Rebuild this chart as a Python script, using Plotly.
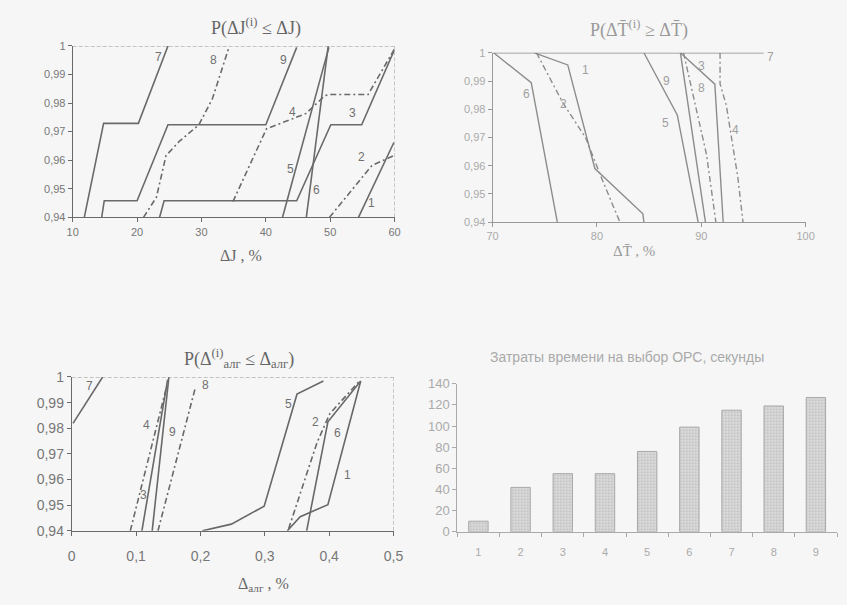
import plotly.graph_objects as go

W, H = 847, 605

# ---------------- Panel 1 data: P(dJ(i) <= dJ) ----------------
p1_curves = {
    "7": ([11.8, 14.8, 20.2, 24.8], [0.94, 0.9729, 0.9729, 1.0]),
    "9": ([14.5, 14.9, 20.0, 24.8, 40.0, 44.8], [0.94, 0.9458, 0.9458, 0.9724, 0.9724, 0.9995]),
    "8": ([21.0, 23.0, 24.5, 26.6, 29.6, 31.7, 34.2], [0.94, 0.947, 0.9616, 0.9667, 0.9724, 0.9815, 0.999]),
    "3": ([23.5, 24.2, 44.8, 50.1, 54.9, 60.0], [0.94, 0.9458, 0.9458, 0.9724, 0.9724, 0.9987]),
    "4": ([34.9, 40.1, 46.2, 49.2, 50.0, 55.9, 60.0], [0.9455, 0.971, 0.9763, 0.9826, 0.983, 0.983, 0.999]),
    "5": ([42.6, 49.8], [0.94, 0.9995]),
    "6": ([46.3, 49.7], [0.94, 1.0]),
    "2": ([49.9, 56.5, 60.0], [0.94, 0.9582, 0.9617]),
    "1": ([54.4, 59.9], [0.94, 0.9662]),
}
p1_dash = ["8", "4", "2"]
p1_labels = {"7": (23.3, 0.9962), "8": (31.9, 0.9951), "9": (42.8, 0.9951),
             "4": (44.1, 0.9769), "3": (53.5, 0.9764), "2": (54.8, 0.961),
             "5": (43.8, 0.957), "6": (47.9, 0.9497), "1": (56.5, 0.9451)}
p1_xticks = [10, 20, 30, 40, 50, 60]
prob_ticks = [0.94, 0.95, 0.96, 0.97, 0.98, 0.99, 1.0]
prob_text = ["0,94", "0,95", "0,96", "0,97", "0,98", "0,99", "1"]

# ---------------- Panel 2 data: P(dT(i) >= dT) ----------------
p2_curves = {
    "7": ([70.0, 96.0], [1.0, 1.0]),
    "6": ([70.1, 73.7, 76.2], [1.0, 0.9894, 0.94]),
    "1": ([74.0, 77.2, 79.8, 84.4, 84.5], [1.0, 0.9957, 0.959, 0.943, 0.94]),
    "2": ([74.2, 76.7, 78.9, 80.4, 82.2], [1.0, 0.9825, 0.97, 0.956, 0.94]),
    "5": ([84.5, 87.7, 89.7], [1.0, 0.978, 0.94]),
    "9": ([88.0, 90.4], [1.0, 0.94]),
    "3": ([88.0, 91.3, 92.1], [1.0, 0.9889, 0.94]),
    "8": ([88.3, 89.4, 90.5, 91.4], [1.0, 0.9814, 0.964, 0.94]),
    "4": ([91.8, 91.8, 92.4, 93.0, 93.5, 94.0], [1.0, 0.989, 0.9814, 0.967, 0.956, 0.94]),
}
p2_dash = ["2", "8", "4"]
p2_labels = {"6": (73.2, 0.9854), "1": (78.9, 0.994), "2": (76.8, 0.982),
             "9": (86.7, 0.99), "5": (86.6, 0.975), "3": (90.0, 0.9952),
             "8": (90.0, 0.9877), "4": (93.3, 0.9728), "7": (96.6, 0.9986)}
p2_xticks = [70, 80, 90, 100]

# ---------------- Panel 3 data: P(d_alg(i) <= d_alg) ----------------
p3_curves = {
    "7": ([0.002, 0.048], [0.9819, 1.0]),
    "4": ([0.091, 0.147], [0.94, 0.9958]),
    "3": ([0.109, 0.149], [0.94, 0.999]),
    "9": ([0.125, 0.151], [0.94, 1.0]),
    "8": ([0.134, 0.192], [0.94, 0.9958]),
    "5": ([0.203, 0.248, 0.299, 0.350, 0.391], [0.94, 0.9426, 0.9496, 0.9933, 0.9984]),
    "1": ([0.335, 0.355, 0.398, 0.449], [0.94, 0.9455, 0.9502, 0.9984]),
    "6": ([0.365, 0.398, 0.449], [0.94, 0.9825, 0.9984]),
    "2": ([0.337, 0.381, 0.401, 0.447], [0.9408, 0.9743, 0.9857, 0.9984]),
}
p3_dash = ["4", "8", "2"]
p3_labels = {"7": (0.027, 0.9965), "4": (0.116, 0.9813), "9": (0.156, 0.9787),
             "3": (0.111, 0.954), "8": (0.208, 0.9968), "5": (0.337, 0.9895),
             "2": (0.378, 0.9825), "6": (0.413, 0.9781), "1": (0.428, 0.9616)}
p3_xticks = [0, 0.1, 0.2, 0.3, 0.4, 0.5]
p3_xtext = ["0", "0,1", "0,2", "0,3", "0,4", "0,5"]

# ---------------- Panel 4 data: time cost ----------------
bar_categories = [1, 2, 3, 4, 5, 6, 7, 8, 9]
bar_values = [10, 42, 55, 55, 76, 99, 115, 119, 127]
bar_yticks = [0, 20, 40, 60, 80, 100, 120, 140]


def px(x):
    return x / W


def py(y):
    return 1 - y / H


fig = go.Figure()

panels = [
    ("x", "y", p1_curves, p1_dash, p1_labels, "#6a6a6a", "#707070", 1.6),
    ("x2", "y2", p2_curves, p2_dash, p2_labels, "#8c8c8c", "#a0a0a0", 1.4),
    ("x3", "y3", p3_curves, p3_dash, p3_labels, "#686868", "#707070", 1.6),
]
for xa, ya, curves, dashed, labels, lc, tc, lw in panels:
    for name, (xs, ys) in curves.items():
        fig.add_trace(go.Scatter(
            x=xs, y=ys, mode="lines", xaxis=xa, yaxis=ya, showlegend=False,
            line=dict(color=lc, width=lw,
                      dash="6px,3px,2px,3px" if name in dashed else "solid"),
            hoverinfo="skip"))
    for name, (lx, ly) in labels.items():
        fig.add_annotation(x=lx, y=ly, xref=xa, yref=ya, text=name, showarrow=False,
                           xanchor="center", yanchor="middle",
                           font=dict(family="Liberation Sans", size=12, color=tc))

fig.add_trace(go.Bar(
    x=bar_categories, y=bar_values, xaxis="x4", yaxis="y4", showlegend=False,
    width=0.46,
    marker=dict(color="#d4d4d4", line=dict(color="#a8a8a8", width=1),
                pattern=dict(shape=".", fgcolor="#9a9a9a", bgcolor="#dcdcdc",
                             size=3, solidity=0.35)),
    hoverinfo="skip"))

tickfont_s = dict(family="Liberation Sans", size=11, color="#777")
axis_common = dict(showgrid=False, zeroline=False, showline=True, ticks="outside",
                   ticklen=4, fixedrange=True)

fig.update_layout(
    width=W, height=H, autosize=False,
    margin=dict(l=0, r=0, t=0, b=0),
    paper_bgcolor="#f6f6f6", plot_bgcolor="#f6f6f6",
    xaxis=dict(domain=[px(68), px(396)], range=[10, 60], tickvals=p1_xticks,
               linecolor="#6a6a6a", tickcolor="#6a6a6a", anchor="y",
               tickfont=tickfont_s, mirror=False, **axis_common),
    yaxis=dict(domain=[py(215), py(39)], range=[0.94, 1.0], tickvals=prob_ticks,
               ticktext=prob_text, linecolor="#6a6a6a", tickcolor="#6a6a6a",
               anchor="x", tickfont=tickfont_s, **axis_common),
    xaxis2=dict(domain=[px(496), px(815)], range=[70, 100], tickvals=p2_xticks,
                linecolor="#999", tickcolor="#999", anchor="y2",
                tickfont=dict(family="Liberation Sans", size=11, color="#aaa"),
                **axis_common),
    yaxis2=dict(domain=[py(220), py(46)], range=[0.94, 1.0], tickvals=prob_ticks,
                ticktext=prob_text, linecolor="#999", tickcolor="#999", anchor="x2",
                tickfont=dict(family="Liberation Sans", size=11, color="#aaa"),
                **axis_common),
    xaxis3=dict(domain=[px(67), px(395)], range=[0, 0.5], tickvals=p3_xticks,
                ticktext=p3_xtext, linecolor="#6a6a6a", tickcolor="#6a6a6a",
                anchor="y3", ticklabelstandoff=8,
                tickfont=dict(family="Liberation Sans", size=14, color="#777"),
                **axis_common),
    yaxis3=dict(domain=[py(537), py(379)], range=[0.94, 1.0], tickvals=prob_ticks,
                ticktext=prob_text, linecolor="#6a6a6a", tickcolor="#6a6a6a",
                anchor="x3",
                tickfont=dict(family="Liberation Sans", size=14, color="#777"),
                **axis_common),
    xaxis4=dict(domain=[px(460), px(847)], range=[0.5, 9.5], tickvals=bar_categories,
                linecolor="#aaa", tickcolor="#aaa", anchor="y4", ticklabelstandoff=10,
                tickfont=dict(family="Liberation Sans", size=11, color="#aaa"),
                showgrid=False, zeroline=False, showline=True, ticks="",
                fixedrange=True,
                minor=dict(tick0=0.5, dtick=1, ticks="outside", ticklen=4,
                           tickcolor="#aaa", showgrid=False)),
    yaxis4=dict(domain=[py(538), py(386)], range=[0, 140], tickvals=bar_yticks,
                linecolor="#aaa", tickcolor="#aaa", anchor="x4",
                tickfont=dict(family="Liberation Sans", size=13, color="#aaa"),
                **axis_common),
)

# frames (dashed top/right borders) for panels 1 and 3
for xa, ya, x0, x1 in [("x", "y", 10, 60), ("x3", "y3", 0, 0.5)]:
    fig.add_shape(type="line", xref=xa, yref=ya, x0=x0, x1=x1, y0=1.0, y1=1.0,
                  line=dict(color="#8a8a8a", width=1, dash="4px,2px"))
    fig.add_shape(type="line", xref=xa, yref=ya, x0=x1, x1=x1, y0=0.94, y1=1.0,
                  line=dict(color="#9a9a9a", width=1, dash="4px,2px"))

serif = "Liberation Serif"
titles = [
    ("P(ΔJ<sup>(i)</sup> ≤ ΔJ)", 255, 20, "#666", 18),
    ("P(ΔT\u0304<sup>(i)</sup> ≥ ΔT\u0304)", 645, 22, "#999", 18),
    ("P(Δ<sup>(i)</sup><sub>алг</sub> ≤ Δ<sub>алг</sub>)", 237, 360, "#666", 18),
    ("Затраты времени на выбор ОРС, секунды", 633, 358, "#aaa", 14),
    ("ΔJ , %", 240, 254, "#666", 16),
    ("ΔT\u0304 , %", 640, 250, "#999", 15),
    ("Δ<sub>алг</sub> , %", 262, 592, "#666", 16),
]
for i, (text, x, y, c, s) in enumerate(titles):
    fam = "Liberation Sans" if i == 3 else serif
    fig.add_annotation(x=px(x), y=py(y), xref="paper", yref="paper", text=text,
                       showarrow=False, xanchor="center", yanchor="middle",
                       font=dict(family=fam, size=s, color=c))

fig.write_html("out.html", config={"displayModeBar": False},
               post_script="document.body.style.margin='0';")
